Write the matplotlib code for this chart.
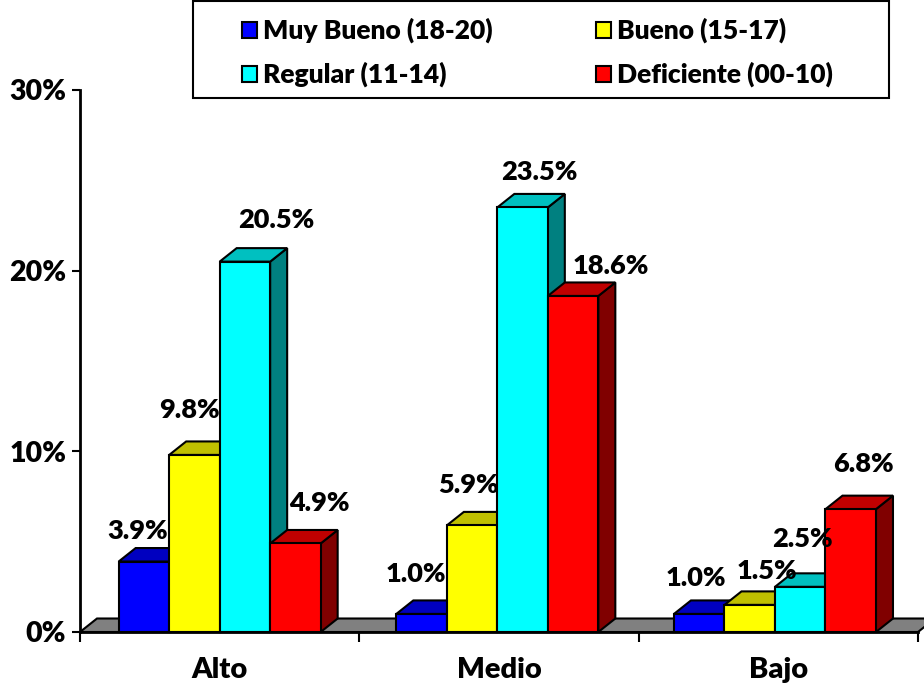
import matplotlib.pyplot as plt
from matplotlib.patches import Polygon, Rectangle

plt.rcParams['font.family'] = ['Lato', 'DejaVu Sans']
FW = 'heavy'

categories = ['Alto', 'Medio', 'Bajo']
series = ['Muy Bueno (18-20)', 'Bueno (15-17)', 'Regular (11-14)', 'Deficiente (00-10)']
muy_bueno = [3.9, 1.0, 1.0]
bueno = [9.8, 5.9, 1.5]
regular = [20.5, 23.5, 2.5]
deficiente = [4.9, 18.6, 6.8]
values = [muy_bueno, bueno, regular, deficiente]
yticks = [0, 10, 20, 30]

front_c = ['#0000FF', '#FFFF00', '#00FFFF', '#FF0000']
top_c = ['#0000C0', '#C0C000', '#00C0C0', '#C00000']
side_c = ['#000080', '#808000', '#008080', '#800000']

# label offsets in pixels (dx, dy) from the front-top centre of each bar
label_off = [
    [(-6, 31), (-5, 45), (31, 42), (24, 40)],
    [(-6, 40), (-4, 40), (17, 35), (38, 30)],
    [(-3, 36), (17, 34), (2, 48), (13, 45)],
]

W, H = 924, 688
fig = plt.figure(figsize=(W / 100, H / 100), dpi=100)
ax = fig.add_axes([80 / W, (H - 632) / H, 838 / W, 542 / H])
ax.set_xlim(0, 3)
ax.set_ylim(0, 30)

px_x = 838 / 3
px_y = 542 / 30
ddx = 17 / px_x
ddy = 13.5 / px_y
bw = 50.5 / px_x
lw = 1.5

# floor
floor = Polygon([(0, 0), (3, 0), (3 + ddx, ddy), (ddx, ddy)], closed=True,
                facecolor='#808080', edgecolor='black', lw=lw, zorder=1, clip_on=False)
ax.add_patch(floor)

z = 3
for c in range(len(categories)):
    for i in range(len(series)):
        v = values[i][c]
        x0 = c + 0.5 - 2 * bw + i * bw - 0.006 * c
        side = Polygon([(x0 + bw, 0), (x0 + bw + ddx, ddy), (x0 + bw + ddx, v + ddy), (x0 + bw, v)],
                       closed=True, facecolor=side_c[i], edgecolor='black', lw=lw, zorder=z, clip_on=False)
        top = Polygon([(x0, v), (x0 + bw, v), (x0 + bw + ddx, v + ddy), (x0 + ddx, v + ddy)],
                      closed=True, facecolor=top_c[i], edgecolor='black', lw=lw, zorder=z + 0.01, clip_on=False)
        front = Rectangle((x0, 0), bw, v, facecolor=front_c[i], edgecolor='black', lw=lw,
                          zorder=z + 0.02, clip_on=False)
        ax.add_patch(side)
        ax.add_patch(top)
        ax.add_patch(front)
        z += 0.1
        dx, dy = label_off[c][i]
        ax.annotate(f'{v:.1f}%', xy=(x0 + bw / 2, v), xytext=(dx, dy), textcoords='offset pixels',
                    ha='center', va='center', fontsize=19.5, fontweight=FW, zorder=20)

for s in ['top', 'right']:
    ax.spines[s].set_visible(False)
for s in ['left', 'bottom']:
    ax.spines[s].set_linewidth(2)
    ax.spines[s].set_zorder(2)

ax.set_yticks(yticks)
ax.set_yticklabels([f'{t}%' for t in yticks], fontsize=20.5, fontweight=FW)
ax.set_xticks([0, 1, 2, 3])
ax.set_xticklabels([])
ax.set_xticks([0.5, 1.5, 2.5], minor=True)
ax.set_xticklabels(categories, minor=True, fontsize=21, fontweight=FW)
ax.tick_params(axis='y', direction='out', length=6, width=1.5, pad=4)
ax.tick_params(axis='x', which='major', direction='out', length=7, width=1.5)
ax.tick_params(axis='x', which='minor', length=0, pad=18)


def fx(x):
    return x / W


def fy(y):
    return 1 - y / H


# legend
fig.patches.append(Rectangle((fx(193), fy(98)), (889 - 193) / W, 97 / H, transform=fig.transFigure,
                             facecolor='white', edgecolor='black', lw=1.5))
cols = [242, 596]
rows = [30, 74]
order = [(0, 0), (1, 0), (0, 1), (1, 1)]
for i, (cx, ry) in enumerate(order):
    mx = cols[cx]
    my = rows[ry]
    fig.patches.append(Rectangle((fx(mx), fy(my + 7.5)), 15 / W, 15 / H, transform=fig.transFigure,
                                 facecolor=front_c[i], edgecolor='black', lw=1.5))
    fig.text(fx(mx + 21), fy(my), series[i], ha='left', va='center', fontsize=19, fontweight=FW)

fig.savefig('out.png', dpi=100)
